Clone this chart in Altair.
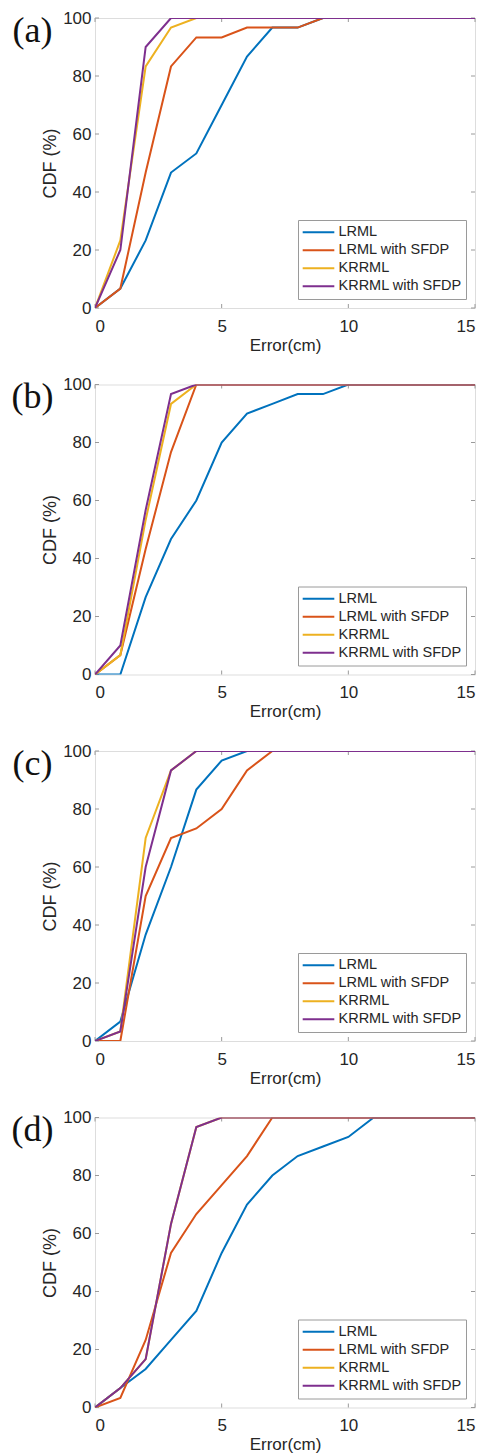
import altair as alt
import pandas as pd

x_vals = list(range(16))
series_names = ["LRML", "LRML with SFDP", "KRRML", "KRRML with SFDP"]
series_colors = ["#0072BD", "#D95319", "#EDB120", "#7E2F8E"]
panel_labels = ["(a)", "(b)", "(c)", "(d)"]

# Panel (a)
a_lrml = [0, 6.7, 23.3, 46.7, 53.3, 70, 86.7, 96.7, 96.7, 100, 100, 100, 100, 100, 100, 100]
a_lrml_sfdp = [0, 6.7, 46.7, 83.3, 93.3, 93.3, 96.7, 96.7, 96.7, 100, 100, 100, 100, 100, 100, 100]
a_krrml = [0, 23.3, 83.3, 96.7, 100, 100, 100, 100, 100, 100, 100, 100, 100, 100, 100, 100]
a_krrml_sfdp = [0, 20, 90, 100, 100, 100, 100, 100, 100, 100, 100, 100, 100, 100, 100, 100]

# Panel (b)
b_lrml = [0, 0, 26.7, 46.7, 60, 80, 90, 93.3, 96.7, 96.7, 100, 100, 100, 100, 100, 100]
b_lrml_sfdp = [0, 6.7, 43.3, 76.7, 100, 100, 100, 100, 100, 100, 100, 100, 100, 100, 100, 100]
b_krrml = [0, 6.7, 53.3, 93.3, 100, 100, 100, 100, 100, 100, 100, 100, 100, 100, 100, 100]
b_krrml_sfdp = [0, 10, 56.7, 96.7, 100, 100, 100, 100, 100, 100, 100, 100, 100, 100, 100, 100]

# Panel (c)
c_lrml = [0, 6.7, 36.7, 60, 86.7, 96.7, 100, 100, 100, 100, 100, 100, 100, 100, 100, 100]
c_lrml_sfdp = [0, 0, 50, 70, 73.3, 80, 93.3, 100, 100, 100, 100, 100, 100, 100, 100, 100]
c_krrml = [0, 3.3, 70, 93.3, 100, 100, 100, 100, 100, 100, 100, 100, 100, 100, 100, 100]
c_krrml_sfdp = [0, 3.3, 60, 93.3, 100, 100, 100, 100, 100, 100, 100, 100, 100, 100, 100, 100]

# Panel (d)
d_lrml = [0, 6.7, 13.3, 23.3, 33.3, 53.3, 70, 80, 86.7, 90, 93.3, 100, 100, 100, 100, 100]
d_lrml_sfdp = [0, 3.3, 23.3, 53.3, 66.7, 76.7, 86.7, 100, 100, 100, 100, 100, 100, 100, 100, 100]
d_krrml = [0, 6.7, 16.7, 63.3, 96.7, 100, 100, 100, 100, 100, 100, 100, 100, 100, 100, 100]
d_krrml_sfdp = [0, 6.7, 16.7, 63.3, 96.7, 100, 100, 100, 100, 100, 100, 100, 100, 100, 100, 100]

panels = [
    [a_lrml, a_lrml_sfdp, a_krrml, a_krrml_sfdp],
    [b_lrml, b_lrml_sfdp, b_krrml, b_krrml_sfdp],
    [c_lrml, c_lrml_sfdp, c_krrml, c_krrml_sfdp],
    [d_lrml, d_lrml_sfdp, d_krrml, d_krrml_sfdp],
]

x_ticks = [0, 5, 10, 15]
y_ticks = [0, 20, 40, 60, 80, 100]

W, H = 380, 290
FRAME = "#9a9a9a"
TXT = "#262626"
FONT = "Liberation Sans"


def make_panel(series_list, label):
    rows = []
    for order, (name, vals) in enumerate(zip(series_names, series_list)):
        for xv, yv in zip(x_vals, vals):
            rows.append({"x": xv, "cdf": yv, "series": name, "order": order})
    df = pd.DataFrame(rows)

    xs = alt.Scale(domain=[0, 15], nice=False, zero=False)
    ys = alt.Scale(domain=[0, 100], nice=False)

    lines = alt.Chart(df).mark_line(strokeWidth=2, clip=True).encode(
        x=alt.X("x:Q", scale=xs, title="Error(cm)",
                axis=alt.Axis(values=x_ticks, tickSize=0, domain=False, grid=False,
                              labelFontSize=17, titleFontSize=17, labelColor=TXT,
                              titleColor=TXT, labelFont=FONT, titleFont=FONT,
                              titleFontWeight="normal", labelPadding=10, titlePadding=3)),
        y=alt.Y("cdf:Q", scale=ys, title="CDF (%)",
                axis=alt.Axis(values=y_ticks, tickSize=0, domain=False, grid=False,
                              labelFontSize=17, titleFontSize=18, labelColor=TXT,
                              titleColor=TXT, labelFont=FONT, titleFont=FONT,
                              titleFontWeight="normal", labelPadding=4, titlePadding=3)),
        color=alt.Color("series:N",
                        scale=alt.Scale(domain=series_names, range=series_colors),
                        legend=alt.Legend(title=None, orient="bottom-right", offset=9,
                                          fillColor="white", strokeColor=FRAME,
                                          padding=3.5, symbolType="stroke",
                                          symbolStrokeWidth=2, symbolSize=1000,
                                          clipHeight=17.6, rowPadding=0, labelOffset=3,
                                          labelFontSize=14.5, labelFont=FONT,
                                          labelColor=TXT, labelLimit=300)),
        order="order:Q",
        detail="series:N",
    )

    tdf_x = pd.DataFrame({"t": x_ticks})
    tdf_y = pd.DataFrame({"t": y_ticks})
    tick_bottom = alt.Chart(tdf_x).mark_rule(color=FRAME, strokeWidth=1).encode(
        x=alt.X("t:Q", scale=xs), y=alt.value(H), y2=alt.value(H - 4))
    tick_top = alt.Chart(tdf_x).mark_rule(color=FRAME, strokeWidth=1).encode(
        x=alt.X("t:Q", scale=xs), y=alt.value(0), y2=alt.value(4))
    tick_left = alt.Chart(tdf_y).mark_rule(color=FRAME, strokeWidth=1).encode(
        y=alt.Y("t:Q", scale=ys), x=alt.value(0), x2=alt.value(4))
    tick_right = alt.Chart(tdf_y).mark_rule(color=FRAME, strokeWidth=1).encode(
        y=alt.Y("t:Q", scale=ys), x=alt.value(W), x2=alt.value(W - 4))

    lab = alt.Chart(pd.DataFrame({"label": [label]})).mark_text(
        font="Liberation Serif", fontSize=36, color="#111111",
        align="center", baseline="alphabetic").encode(
        text="label:N", x=alt.value(-62.5), y=alt.value(23.5))

    return alt.layer(tick_bottom, tick_top, tick_left, tick_right, lines, lab).properties(
        width=W, height=H)


charts = [make_panel(s, l) for s, l in zip(panels, panel_labels)]
chart = alt.vconcat(*charts, spacing=76.5, bounds="flush").resolve_scale(
    color="independent").resolve_legend(color="independent").properties(
    padding={"left": 3, "top": 0, "right": 0, "bottom": 0}).configure_view(
    stroke=FRAME, strokeWidth=1).configure(background="white")

chart.save("out.html", embed_options={"renderer": "svg", "actions": False})
